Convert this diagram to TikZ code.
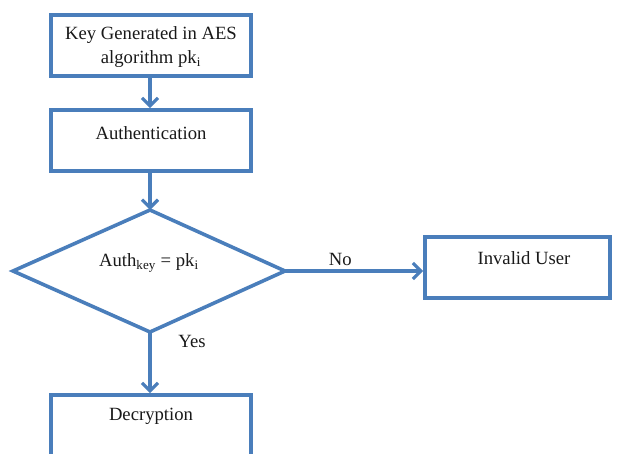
\documentclass[tikz,border=0pt]{standalone}
\usepackage{fontspec}
\setmainfont{Liberation Serif}
\usetikzlibrary{arrows.meta}
\definecolor{ablue}{HTML}{4A7EBB}
\tikzset{
  box/.style={draw=ablue, line width=2.7pt, minimum width=150pt, minimum height=45.75pt, inner sep=0pt},
  lbl/.style={font=\fontsize{14}{17.5}\selectfont, text=black!90, inner sep=0pt},
  conn/.style={draw=ablue, line width=2.7pt, -{Straight Barb[length=6pt,width=12pt,line width=2.4pt]}},
}
\begin{document}
\begin{tikzpicture}[x=0.75pt,y=-0.75pt]
\useasboundingbox (0,0) rectangle (620,453);
\clip (0,0) rectangle (620,453);
\node[box] (kg) at (151,45.5) {};
\node[lbl, align=center] (kgt) at (151,47) {Key Generated in AES\\algorithm pk\textsubscript{i}};
\node[box] (au) at (151,140.5) {};
\node[lbl] (aut) at (151,133) {Authentication};
\draw[draw=ablue, line width=2.7pt, line join=miter] (150,210) -- (285,271) -- (150,332) -- (13,271) -- cycle;
\coordinate (dtop) at (150,210);
\coordinate (dright) at (285,271);
\coordinate (dbot) at (150,332);
\node[lbl] (dt) at (149,263) {Auth\textsubscript{key} = pk\textsubscript{i}};
\node[box, minimum width=138.75pt] (iu) at (517.5,267.5) {};
\node[lbl] (iut) at (524,258) {Invalid User};
\node[box] (de) at (151,425.5) {};
\node[lbl] (det) at (151,416) {Decryption};
\draw[conn] (kg.south -| 150,0) -- (au.north -| 150,0);
\draw[conn] (au.south -| 150,0) -- (dtop);
\draw[conn] (dright) -- (dright -| iu.west) node[lbl, pos=0.4, above=3pt] (no) {No};
\draw[conn] (dbot) -- (de.north -| 150,0) node[lbl, pos=0.15, right=20pt] (yes) {Yes};
\end{tikzpicture}
\end{document}
